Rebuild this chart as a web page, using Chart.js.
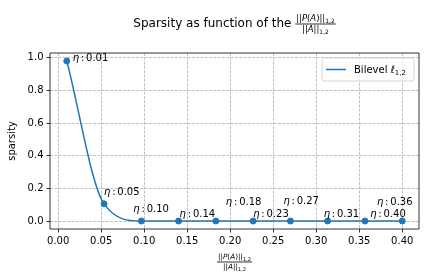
<!DOCTYPE html>
<html>
<head>
<meta charset="utf-8">
<script src="https://cdn.jsdelivr.net/npm/chart.js@4.4.0/dist/chart.umd.min.js"></script>
<style>
    body { margin: 0; background: #fff; }
    #wrap { width: 424px; height: 280px; }
</style>
</head>
<body>
<div id="wrap"><canvas id="sparsityChart" width="424" height="280"></canvas></div>
<script>
// values
const ratioValues = [0.01, 0.0533, 0.0967, 0.14, 0.1833, 0.2267, 0.27, 0.3133, 0.3567, 0.40];
const sparsityValues = [0.98, 0.105, 0, 0, 0, 0, 0, 0, 0, 0];
const etaLabels = ['0.01', '0.05', '0.10', '0.14', '0.18', '0.23', '0.27', '0.31', '0.36', '0.40'];
const xTickValues = [0, 0.05, 0.10, 0.15, 0.20, 0.25, 0.30, 0.35, 0.40];
const yTickValues = [0, 0.2, 0.4, 0.6, 0.8, 1.0];
const seriesName = 'Bilevel ';
const titleText = 'Sparsity as function of the ';
const yAxisName = 'sparsity';

const FONT = 'DejaVu Sans';
const BLUE = '#1f77b4';

Chart.defaults.font.family = FONT;
Chart.defaults.color = '#000';

// draw a row of text pieces (some italic, some smaller / lowered)
function drawPieces(ctx, pieces, x, y, measureOnly) {
    let cx = x;
    pieces.forEach(p => {
        ctx.font = (p.italic ? 'italic ' : '') + p.size + 'px ' + FONT;
        if (!measureOnly) ctx.fillText(p.t, cx, y + (p.dy || 0));
        cx += ctx.measureText(p.t).width + (p.gap || 0);
    });
    return cx - x;
}

function normPieces(size, withP) {
    let sub = size * 0.7;
    let inner = withP
        ? [{ t: '||', size }, { t: 'P', size, italic: true }, { t: '(', size }, { t: 'A', size, italic: true }, { t: ')', size }, { t: '||', size }]
        : [{ t: '||', size }, { t: 'A', size, italic: true }, { t: '||', size }];
    return inner.concat([{ t: '1,2', size: sub, dy: size * 0.22 }]);
}

// fraction ||P(A)|| / ||A|| centred on cx, bar at barY
function drawFraction(ctx, cx, barY, size) {
    let num = normPieces(size, true);
    let den = normPieces(size, false);
    let wNum = drawPieces(ctx, num, 0, 0, true);
    let wDen = drawPieces(ctx, den, 0, 0, true);
    let w = Math.max(wNum, wDen) + 2;
    drawPieces(ctx, num, cx - wNum / 2, barY - size * 0.38);
    drawPieces(ctx, den, cx - wDen / 2, barY + size * 0.98);
    ctx.beginPath();
    ctx.lineWidth = 0.8;
    ctx.strokeStyle = '#000';
    ctx.moveTo(cx - w / 2, barY);
    ctx.lineTo(cx + w / 2, barY);
    ctx.stroke();
    return w;
}

const etaOffsets = [[6, 0], [0, -9], [-8, -9], [1, -4], [10, -16], [0, -4], [-7, -17], [-4, -4], [12, -16], [-32, -4]];

const decorPlugin = {
    id: 'decor',
    afterDraw(chart) {
        let ctx = chart.ctx;
        let area = chart.chartArea;
        ctx.save();
        ctx.fillStyle = '#000';
        ctx.textAlign = 'left';
        ctx.textBaseline = 'alphabetic';

        // eta annotations
        let meta = chart.getDatasetMeta(0);
        meta.data.forEach((pt, i) => {
            let off = etaOffsets[i];
            drawPieces(ctx, [
                { t: '\u03b7', size: 10, italic: true, gap: 1.8 },
                { t: ':', size: 10, gap: 1.8 },
                { t: etaLabels[i], size: 10 }
            ], pt.x + off[0], pt.y + off[1]);
        });

        // frame
        ctx.beginPath();
        ctx.lineWidth = 0.8;
        ctx.strokeStyle = '#000';
        ctx.rect(area.left, area.top, area.right - area.left, area.bottom - area.top);
        ctx.stroke();

        // legend
        let lx = 322, ly = 58, lw = 92, lh = 23;
        ctx.beginPath();
        ctx.roundRect(lx, ly, lw, lh, 2.5);
        ctx.fillStyle = 'rgba(255,255,255,0.8)';
        ctx.fill();
        ctx.lineWidth = 0.8;
        ctx.strokeStyle = '#cccccc';
        ctx.stroke();
        ctx.beginPath();
        ctx.lineWidth = 1.5;
        ctx.strokeStyle = BLUE;
        ctx.moveTo(lx + 4, ly + 11.5);
        ctx.lineTo(lx + 24, ly + 11.5);
        ctx.stroke();
        ctx.fillStyle = '#000';
        drawPieces(ctx, [
            { t: seriesName, size: 10 },
            { t: '\u2113', size: 10, italic: true },
            { t: '1,2', size: 7, dy: 2 }
        ], lx + 32, ly + 15);

        // title
        let cx = (area.left + area.right) / 2;
        let wFrac = drawPieces(ctx, normPieces(8.5, true), 0, 0, true) + 2;
        ctx.font = '12px ' + FONT;
        let wTitle = ctx.measureText(titleText).width;
        let x0 = cx - (wTitle + wFrac) / 2;
        ctx.fillText(titleText, x0, 27);
        drawFraction(ctx, x0 + wTitle + wFrac / 2, 24, 8.5);

        // x axis label
        ctx.fillStyle = '#000';
        drawFraction(ctx, cx, 262, 7.3);

        // y axis label
        ctx.save();
        ctx.translate(15, (area.top + area.bottom) / 2);
        ctx.rotate(-Math.PI / 2);
        ctx.font = '10px ' + FONT;
        ctx.textAlign = 'center';
        ctx.fillText(yAxisName, 0, 0);
        ctx.restore();

        ctx.restore();
    }
};

function gridOpts() {
    return {
        color: '#b0b0b0',
        lineWidth: 0.8,
        drawTicks: true,
        tickLength: 3.5,
        tickColor: '#000',
        tickWidth: 0.8,
        tickBorderDash: []
    };
}

document.addEventListener('DOMContentLoaded', () => {
    let ctx = document.getElementById('sparsityChart');
    new Chart(ctx, {
        type: 'line',
        data: {
            datasets: [{
                label: 'Bilevel l1,2',
                data: ratioValues.map((x, i) => ({ x: x, y: sparsityValues[i] })),
                borderColor: BLUE,
                backgroundColor: BLUE,
                borderWidth: 1.5,
                cubicInterpolationMode: 'monotone',
                pointRadius: 3,
                pointBorderWidth: 1,
                pointBackgroundColor: BLUE,
                pointBorderColor: BLUE,
                fill: false
            }]
        },
        options: {
            responsive: false,
            devicePixelRatio: 1,
            animation: false,
            layout: { padding: { top: 53, right: 5, left: 0, bottom: 0 } },
            plugins: {
                legend: { display: false },
                tooltip: { enabled: false },
                title: { display: false }
            },
            scales: {
                x: {
                    type: 'linear',
                    min: -0.0095,
                    max: 0.4195,
                    afterBuildTicks: s => { s.ticks = xTickValues.map(v => ({ value: v })); },
                    afterFit: s => { s.height = 51; },
                    ticks: {
                        callback: v => v.toFixed(2),
                        font: { size: 10 },
                        color: '#000',
                        padding: 3,
                        maxRotation: 0,
                        autoSkip: false
                    },
                    grid: gridOpts(),
                    border: { display: false, dash: [3, 1.3] }
                },
                y: {
                    min: -0.049,
                    max: 1.029,
                    afterBuildTicks: s => { s.ticks = yTickValues.map(v => ({ value: v })); },
                    afterFit: s => { s.width = 50; },
                    ticks: {
                        callback: v => v.toFixed(1),
                        font: { size: 10 },
                        color: '#000',
                        padding: 3,
                        autoSkip: false
                    },
                    grid: gridOpts(),
                    border: { display: false, dash: [3, 1.3] }
                }
            }
        },
        plugins: [decorPlugin]
    });
});
</script>
</body>
</html>
